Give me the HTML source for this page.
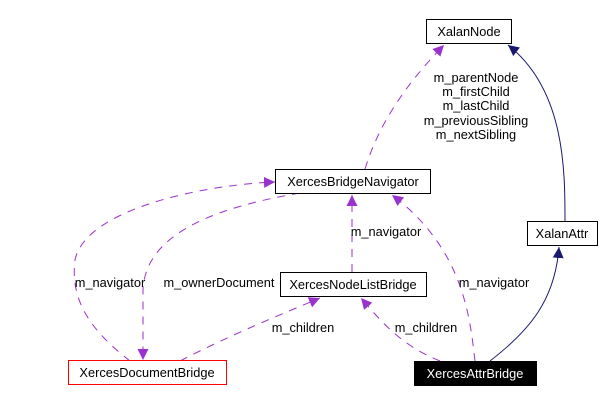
<!DOCTYPE html>
<html><head><meta charset="utf-8"><style>body{margin:0;background:#fff}svg{display:block}text{font-family:"Liberation Sans",sans-serif;font-size:12.8px}</style></head><body>
<svg width="606" height="403" viewBox="0 0 606 403" xmlns="http://www.w3.org/2000/svg">
<defs>
<marker id="p" viewBox="0 0 10 10" refX="10" refY="5" markerWidth="11" markerHeight="11" markerUnits="userSpaceOnUse" orient="auto"><path d="M0,0L10,5L0,10z" fill="#9a32cd"/></marker>
<marker id="n" viewBox="0 0 10 10" refX="10" refY="5" markerWidth="11" markerHeight="11" markerUnits="userSpaceOnUse" orient="auto"><path d="M0,0L10,5L0,10z" fill="#191970"/></marker>
</defs>
<g fill="none" stroke="#9a32cd" stroke-dasharray="8,7">
<path d="M365,169 C380,120 410,80 444,45" marker-end="url(#p)"/>
<path d="M352,272 L352,195" marker-end="url(#p)"/>
<path d="M475,361 C470,320 465,250 392,195" marker-end="url(#p)"/>
<path d="M440,361 C400,345 380,320 361,298" marker-end="url(#p)"/>
<path d="M180,361 C230,335 280,315 320,298" marker-end="url(#p)"/>
<path d="M130,361 C90,330 70,300 75,260 C85,210 200,185 275,182" marker-end="url(#p)"/>
<path d="M300,193 C200,210 145,240 143,290 L143,360" marker-end="url(#p)"/>
</g>
<g fill="none" stroke="#191970">
<path d="M565,221 C565,170 565,90 508,45" marker-end="url(#n)"/>
<path d="M490,361 C530,330 555,300 559,247" marker-end="url(#n)"/>
</g>
<g stroke="#000" fill="#fff">
<rect x="426.5" y="19.5" width="85" height="24"/>
<rect x="275.5" y="169.5" width="155" height="24"/>
<rect x="527.5" y="221.5" width="70" height="24"/>
<rect x="280.5" y="272.5" width="146" height="24"/>
<rect x="414.5" y="361.5" width="122" height="24" fill="#000"/>
</g>
<rect x="68.5" y="360.5" width="158" height="24" fill="#fff" stroke="#f00"/>
<g text-anchor="middle" fill="#000">
<text x="469" y="36">XalanNode</text>
<text x="353" y="186">XercesBridgeNavigator</text>
<text x="562" y="238">XalanAttr</text>
<text x="353" y="289">XercesNodeListBridge</text>
<text x="147" y="377">XercesDocumentBridge</text>
<text x="475" y="378" fill="#fff">XercesAttrBridge</text>
<text x="476" y="82">m_parentNode</text>
<text x="476" y="96">m_firstChild</text>
<text x="476" y="110">m_lastChild</text>
<text x="476" y="125">m_previousSibling</text>
<text x="476" y="139">m_nextSibling</text>
<text x="386" y="236">m_navigator</text>
<text x="494" y="287">m_navigator</text>
<text x="110" y="287">m_navigator</text>
<text x="219" y="287">m_ownerDocument</text>
<text x="303" y="332">m_children</text>
<text x="426" y="332">m_children</text>
</g>
</svg>
</body></html>
